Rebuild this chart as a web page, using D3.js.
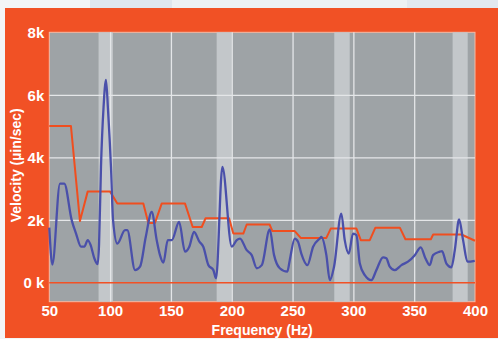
<!DOCTYPE html>
<html>
<head>
<meta charset="utf-8">
<script src="https://cdn.jsdelivr.net/npm/d3@7"></script>
<style>
  html, body { margin: 0; padding: 0; background: #f3f5f7; }
  svg { display: block; }
</style>
</head>
<body>
<div id="chart"></div>
<script>
// ---- data ----
const xTicks = [50, 100, 150, 200, 250, 300, 350, 400];
const yTicks = [0, 2, 4, 6, 8];               // k µin/sec
const bandRanges = [[90.5, 102.3], [187.6, 200], [284.3, 297], [381.6, 394]];

// measured spectrum (Hz, k µin/sec)
const specHz = [50, 52.5, 58.8, 62.3, 68.4, 72, 76.1, 78.8, 81.6, 84, 87, 89.8,
  90.9, 92.5, 94.6, 96.6, 98.3, 100.7, 102.4, 105.9, 112.3, 114.1, 120.5, 124.6,
  129.3, 134.2, 138.3, 141, 143.8, 147.4, 150.7, 156.7, 161.6, 165.1, 169, 173.4,
  176.6, 180.8, 184.9, 187.1, 192.3, 200, 204.1, 206.8, 212.3, 216.4, 220.6, 224.7,
  231.2, 234.8, 239.5, 245.7, 247.7, 251.8, 254.5, 257.2, 262.2, 266.9, 272.4, 273.7,
  277.8, 280.6, 284.1, 290.1, 292.9, 296.2, 299.7, 302.5, 305.3, 309.4, 314.8, 318.9,
  324.4, 327.1, 329.9, 334, 339.5, 344.9, 350.5, 355.4, 359.2, 362.8, 365.5, 371,
  372.9, 376.5, 380.6, 383.4, 386.9, 390.2, 393.8, 399.8];
const specVal = [1.75, 0.57, 3.16, 3.16, 1.99, 1.56, 1.14, 1.14, 1.35, 1.19, 0.77, 0.58,
  1.2, 3.7, 5.6, 6.48, 5.5, 3.7, 2.0, 1.24, 1.67, 1.67, 0.39, 0.5,
  1.45, 2.25, 1.35, 0.87, 0.63, 1.35, 1.35, 1.93, 0.98, 1.14, 1.61, 1.3,
  1.14, 0.55, 0.39, 0.13, 3.69, 1.14, 1.35, 1.4, 1.03, 0.87, 0.45, 0.55,
  1.69, 0.87, 0.45, 0.34, 0.71, 1.4, 1.3, 0.92, 0.55, 1.14, 1.4, 1.45,
  0.87, 0.07, 0.5, 2.2, 1.35, 0.92, 1.56, 1.51, 0.6, 0.23, 0.07, 0.39,
  0.8, 0.77, 0.5, 0.39, 0.55, 0.66, 0.87, 1.12, 0.77, 0.55, 0.87, 0.98,
  1.0, 0.6, 0.48, 1.03, 2.01, 1.35, 0.66, 0.69];

// alarm envelope (Hz, k µin/sec)
const alarmHz = [50, 67.8, 75.2, 81.6, 99.9, 105.9, 127.3, 131.4, 136.9, 142.4, 161.6,
  167.9, 175.3, 178.5, 197.8, 201.3, 209.5, 212.3, 231.1, 233.4, 251.8, 256.7, 277.8,
  281.4, 302.5, 306.1, 313.5, 318.1, 338.2, 342.8, 363.7, 365.6, 388.8, 400];
const alarmVal = [5.0, 5.0, 1.96, 2.91, 2.91, 2.52, 2.52, 1.9, 1.9, 2.52, 2.52,
  1.77, 1.77, 2.05, 2.05, 1.56, 1.56, 1.85, 1.85, 1.64, 1.64, 1.42, 1.42,
  1.72, 1.72, 1.35, 1.35, 1.75, 1.75, 1.38, 1.38, 1.53, 1.53, 1.33];

// ---- layout ----
const width = 498, height = 339;
const margin = {left: 49.3, top: 32.3, right: 23, bottom: 37.3};
const innerWidth = width - margin.left - margin.right,
      innerHeight = height - margin.top - margin.bottom;

const svg = d3.select('#chart').append('svg')
  .attr('width', width)
  .attr('height', height);

// page strip and orange panel
svg.append('rect').attr('x', 90).attr('y', 0).attr('width', 82).attr('height', 8).attr('fill', '#dfe6ee');
svg.append('rect').attr('x', 172).attr('y', 0).attr('width', 235).attr('height', 8).attr('fill', '#edf1f4');
svg.append('rect').attr('x', 407).attr('y', 0).attr('width', 91).attr('height', 8).attr('fill', '#e2e8ef');
svg.append('rect').attr('x', 5).attr('y', 8).attr('width', 493).attr('height', 330).attr('fill', '#f15125');

const xScale = d3.scaleLinear().domain([50, 400]).range([0, innerWidth]);
const yScale = d3.scaleLinear().domain([-0.62, 8]).range([innerHeight, 0]);

const g = svg.append('g').attr('transform', `translate(${margin.left},${margin.top})`);

g.append('rect')
  .attr('width', innerWidth)
  .attr('height', innerHeight)
  .attr('fill', '#9ea3a6')
  .attr('stroke', '#f7b9a4')
  .attr('stroke-width', 1);

// harmonic bands
g.selectAll('.band').data(bandRanges).join('rect')
  .attr('class', 'band')
  .attr('x', d => xScale(d[0]))
  .attr('width', d => xScale(d[1]) - xScale(d[0]))
  .attr('y', 0)
  .attr('height', innerHeight)
  .attr('fill', '#c3c7ca');

// grid
const xAxis = g.append('g')
  .attr('transform', `translate(0,${innerHeight})`)
  .call(d3.axisBottom(xScale).tickValues(xTicks).tickSize(-innerHeight).tickPadding(14));
xAxis.select('.domain').remove();
xAxis.selectAll('.tick line')
  .attr('stroke', '#e4e6e8')
  .attr('stroke-width', 1.3)
  .attr('stroke-opacity', d => (d === 50 || d === 400) ? 0 : 1);

const yAxis = g.append('g')
  .call(d3.axisLeft(yScale).tickValues(yTicks).tickSize(-innerWidth).tickPadding(5)
    .tickFormat(d => d === 0 ? '0 k' : d + 'k'));
yAxis.select('.domain').remove();
yAxis.selectAll('.tick line')
  .attr('stroke', d => d === 0 ? '#f15125' : '#e4e6e8')
  .attr('stroke-width', d => d === 0 ? 1.6 : 1.3)
  .attr('stroke-opacity', d => d === 8 ? 0 : 1);

svg.selectAll('.tick text')
  .attr('fill', '#ffffff')
  .style('font-family', '"Liberation Sans Narrow", "Liberation Sans", Arial, sans-serif')
  .style('font-weight', 'bold')
  .style('font-size', '15px');
yAxis.selectAll('.tick text').attr('dy', '0.36em');
xAxis.selectAll('.tick text').attr('dy', '0');

// lines
const line = d3.line()
  .x(d => xScale(d[0]))
  .y(d => yScale(d[1]));

g.append('path')
  .datum(alarmHz.map((h, i) => [h, alarmVal[i]]))
  .attr('d', line)
  .attr('fill', 'none')
  .attr('stroke', '#f04e1f')
  .attr('stroke-width', 2)
  .attr('stroke-linejoin', 'round');

g.append('path')
  .datum(specHz.map((h, i) => [h, specVal[i]]))
  .attr('d', line.curve(d3.curveMonotoneX))
  .attr('fill', 'none')
  .attr('stroke', '#4a50aa')
  .attr('stroke-width', 2.3)
  .attr('stroke-linejoin', 'round');

// axis titles
const labels = svg.append('g')
  .attr('fill', '#ffffff')
  .style('font-family', '"Liberation Sans", Arial, sans-serif')
  .style('font-weight', 'bold')
  .style('font-size', '14px')
  .attr('text-anchor', 'middle');

labels.append('text')
  .text('Frequency (Hz)')
  .attr('x', margin.left + innerWidth / 2)
  .attr('y', 335);

labels.append('text')
  .text('Velocity (µin/sec)')
  .attr('transform', `translate(21,${margin.top + 133}) rotate(-90)`);
</script>
</body>
</html>
